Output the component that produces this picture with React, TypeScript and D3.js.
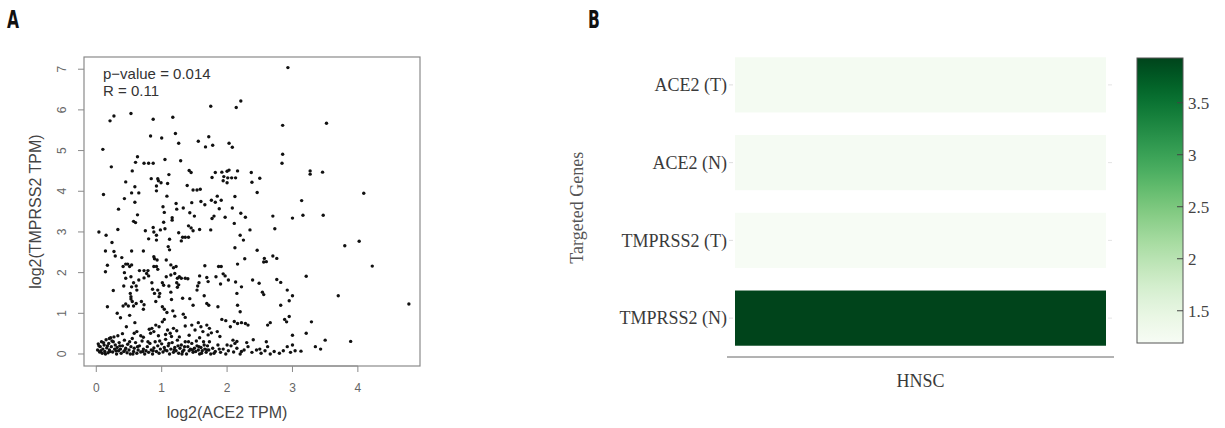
import React from "react";
import * as d3 from "d3";

// ---------- Panel A data: log2(ACE2 TPM) vs log2(TMPRSS2 TPM) ----------
const upperPoints: [number, number][] = [
  [2.93,7.04],[2.21,6.22],[2.14,6.06],[1.75,6.09],[3.52,5.67],[2.85,5.62],[2.85,4.91],[2.84,4.69],
  [0.04,3.0],[0.10,5.03],[0.27,5.85],[0.21,5.73],[0.53,5.91],[0.87,5.77],[1.17,5.82],[1.21,5.42],
  [1.26,5.18],[0.83,5.36],[1.0,5.31],[1.56,5.23],[1.72,5.34],[1.67,5.09],[1.78,5.13],[2.03,5.18],
  [2.08,5.08],[0.23,4.6],[0.11,3.92],[0.63,4.85],[0.6,4.71],[0.55,4.5],[0.73,4.69],[0.80,4.69],
  [0.87,4.69],[0.45,4.23],[0.59,4.11],[0.54,3.96],[0.65,3.96],[0.43,3.82],[0.34,3.56],[0.59,3.73],
  [0.63,3.42],[0.57,3.26],[0.6,3.23],[0.75,3.03],[0.33,3.06],[0.15,2.92],[0.24,2.74],[0.14,2.53],
  [0.27,2.52],[0.29,2.41],[0.39,2.37],[0.54,2.53],[0.72,2.53],[0.17,2.18],[0.14,2.02],[0.26,1.56],
  [0.17,1.16],[0.32,1.0],[0.37,0.89],
  [0.84,4.31],[0.94,4.31],[0.95,4.26],[0.99,4.21],[0.92,4.01],[0.92,4.13],[1.05,4.78],[1.11,4.41],
  [1.09,4.19],[1.02,3.62],[1.04,3.48],[1.08,3.88],[1.22,3.70],[1.23,3.56],[1.16,3.35],[1.16,3.29],
  [1.33,3.59],[1.29,4.75],[1.42,4.51],[1.45,4.46],[1.39,4.14],[1.48,4.03],[1.54,4.03],[1.59,4.05],
  [1.46,3.72],[1.6,3.75],[1.66,3.67],[1.43,3.47],[1.5,3.39],[1.41,3.15],[1.45,3.1],[1.48,3.03],
  [1.58,3.06],[1.41,2.87],[1.32,2.87],[1.36,2.87],[1.30,2.78],[1.26,2.98],[1.12,2.82],[1.10,2.64],
  [0.98,3.05],[1.05,3.08],[0.88,3.0],[0.92,2.92],[0.92,2.8],[0.80,2.83],[0.87,3.11],[1.03,3.24],
  [1.75,3.05],[1.77,3.33],[1.8,3.39],[1.76,3.78],[1.82,3.73],[1.85,3.88],[1.91,3.78],[1.77,4.34],
  [1.82,4.46],[1.92,4.47],[2.0,4.49],[2.03,4.52],[1.95,4.36],[1.94,4.26],[2.0,4.21],[2.01,4.33],
  [2.07,4.33],[2.13,4.33],[2.16,4.5],[2.37,4.46],[2.38,4.22],[2.5,4.32],[2.46,3.97],[2.08,3.59],
  [2.12,3.87],[2.11,3.21],[1.97,3.36],[1.88,3.57],[2.21,3.46],[2.28,3.36],[2.35,3.05],[2.2,2.92],
  [2.25,2.8],[2.12,2.61],[2.27,2.34],[2.46,2.55],[2.57,2.35],[2.6,2.27],[2.56,2.26],[2.7,2.41],
  [2.76,2.35],[2.7,3.39],[2.73,3.08],[3.0,3.34],[3.16,3.41],[3.14,3.77],[3.27,4.5],[3.27,4.42],
  [3.46,4.47],[3.47,3.41],[4.09,3.95],[4.02,2.77],[3.8,2.66],[4.22,2.16],[3.7,1.43],[4.78,1.23],
  [3.21,1.91],[3.29,0.79],[3.21,0.51],[3.89,0.31],[3.5,0.34],[3.35,0.18],[3.43,0.12],[3.0,1.43],
  [2.95,1.31],[2.82,1.2],[2.92,1.57],[2.76,1.83],[2.82,1.76],[2.39,1.82],[2.49,1.74],[2.54,1.52],
  [2.56,1.46],[2.62,0.71],[2.66,0.77],[2.88,0.85],[2.91,0.79],[2.95,0.92],[3.0,0.46],[3.0,0.22],
  [2.97,0.04],[3.04,0.08],[3.13,0.07],[2.92,0.18],[2.86,0.08],
];

const middlePoints: [number, number][] = [
  [1.66,2.17],[1.87,2.15],[1.91,2.15],[1.58,1.92],[1.57,1.75],[1.55,1.67],[1.69,1.88],[1.71,1.78],
  [1.83,1.9],[1.94,1.97],[1.97,1.92],[1.9,1.72],[2.02,1.82],[2.13,1.77],[2.16,2.21],[2.22,1.65],
  [2.15,1.49],[1.65,1.43],[1.69,1.24],[1.72,1.2],[1.48,1.2],[1.43,1.36],[1.54,1.57],[2.16,1.2],
  [2.2,1.04],[1.86,1.16],[1.92,0.85],[1.98,0.82],[2.05,0.67],[2.11,0.8],[2.16,0.75],[2.28,0.75],
  [2.32,0.71],[2.22,0.77],[2.09,0.34],[2.15,0.31],
  [1.14,2.19],[1.18,2.12],[1.22,2.15],[1.07,1.9],[1.14,1.94],[1.2,1.98],[1.24,1.86],[1.27,1.9],
  [1.30,1.86],[1.23,1.75],[1.26,1.7],[1.24,1.64],[1.36,1.86],[1.4,1.85],[1.11,1.67],[1.01,1.75],
  [1.03,1.69],[1.01,1.16],[1.04,1.1],[1.08,1.02],[1.17,1.06],[1.33,0.98],[1.36,0.9],[1.2,0.93],
  [1.14,1.52],[1.15,1.34],[1.32,1.37],[0.96,1.41],[0.94,1.57],[0.97,1.49],[0.86,1.59],[0.89,1.49],
  [0.91,1.29],[0.88,2.15],[0.89,2.34],[0.88,2.39],[0.93,2.31],[0.92,2.15],[0.94,2.08],[1.07,2.31],
  [1.12,2.56],[0.80,1.92],[0.85,1.75],[0.73,1.87],[0.77,1.98],[0.73,2.05],[0.79,2.05],[0.66,2.05],
  [0.65,1.82],[0.61,1.67],[0.62,1.57],[0.57,1.75],[0.53,1.9],[0.45,1.86],[0.51,2.15],[0.54,2.19],
  [0.41,2.15],[0.45,2.21],[0.48,2.21],[0.43,2.0],[0.42,1.67],[0.52,1.49],[0.53,1.41],[0.53,1.35],
  [0.55,1.29],[0.57,1.18],[0.61,1.24],[0.41,1.18],[0.45,1.23],[0.49,1.18],[0.54,1.65],[0.69,1.29],
  [0.73,1.21],[0.72,1.1],[0.51,0.95],[0.59,0.77],[0.46,0.67],[0.62,0.55],[0.58,0.51],[0.68,0.45],
  [0.72,0.41],[0.81,0.61],[0.85,0.63],[0.88,0.55],[0.83,0.51],[0.91,0.71],[0.96,0.67],[1.01,0.79],
  [1.04,0.85],[1.09,0.59],[1.13,0.51],[1.06,0.48],[1.18,0.63],[1.23,0.57],[1.15,0.43],[1.36,0.69],
  [1.46,0.71],[1.51,0.59],[1.56,0.77],[1.6,0.67],[1.63,0.55],[1.69,0.71],[1.73,0.63],[1.76,0.52],
  [1.71,0.47],[1.85,0.55],[1.89,0.43],[0.27,0.42],[0.33,0.45],[0.2,0.38],[0.4,0.5],[0.95,0.45],
  [1.27,0.42],[1.42,0.46],[1.58,0.4],[2.4,0.35],[2.6,0.3],[2.3,0.28],
];

const bottomBand: [number, number][] = [
  [0.02,0.1],[0.03,0.25],[0.05,0.05],[0.06,0.18],[0.08,0.3],[0.09,0.02],[0.1,0.12],[0.12,0.22],
  [0.13,0.06],[0.15,0.35],[0.16,0.15],[0.18,0.03],[0.19,0.26],[0.2,0.1],[0.22,0.4],[0.23,0.18],
  [0.25,0.05],[0.26,0.3],[0.28,0.12],[0.29,0.22],[0.31,0.0],[0.32,0.16],[0.34,0.08],[0.35,0.28],
  [0.37,0.12],[0.38,0.02],[0.4,0.2],[0.42,0.06],[0.43,0.34],[0.45,0.14],[0.47,0.03],[0.48,0.24],
  [0.5,0.1],[0.52,0.0],[0.53,0.18],[0.55,0.38],[0.57,0.06],[0.58,0.14],[0.6,0.28],[0.62,0.02],
  [0.64,0.1],[0.66,0.2],[0.68,0.05],[0.7,0.32],[0.72,0.12],[0.74,0.0],[0.76,0.08],[0.78,0.18],
  [0.8,0.04],[0.82,0.26],[0.84,0.1],[0.86,0.0],[0.88,0.15],[0.9,0.3],[0.92,0.06],[0.94,0.2],
  [0.96,0.02],[0.98,0.12],[1.0,0.25],[1.02,0.05],[1.04,0.16],[1.06,0.36],[1.08,0.08],[1.1,0.2],
  [1.12,0.0],[1.14,0.12],[1.16,0.28],[1.18,0.04],[1.2,0.16],[1.22,0.08],[1.24,0.34],[1.26,0.02],
  [1.28,0.14],[1.3,0.22],[1.32,0.06],[1.34,0.1],[1.36,0.3],[1.38,0.0],[1.4,0.18],[1.42,0.08],
  [1.44,0.12],[1.46,0.26],[1.48,0.04],[1.5,0.14],[1.52,0.06],[1.54,0.2],[1.56,0.1],[1.58,0.0],
  [1.6,0.16],[1.62,0.08],[1.64,0.3],[1.66,0.12],[1.68,0.04],[1.7,0.2],[1.72,0.1],[1.75,0.0],
  [1.78,0.14],[1.82,0.06],[1.86,0.22],[1.9,0.04],[1.94,0.12],[1.98,0.0],[2.02,0.08],[2.06,0.2],
  [2.1,0.05],[2.15,0.14],[2.2,0.0],[2.26,0.1],[2.32,0.18],[2.38,0.04],[2.45,0.1],[2.52,0.02],
  [2.58,0.08],[2.66,0.0],[2.72,0.06],
  [0.04,0.2],[0.07,0.08],[0.11,0.28],[0.14,0.0],[0.17,0.2],[0.21,0.06],[0.24,0.32],[0.3,0.08],
  [0.36,0.2],[0.44,0.1],[0.51,0.3],[0.56,0.0],[0.63,0.18],[0.71,0.06],[0.79,0.3],[0.87,0.08],
  [0.97,0.32],[1.05,0.1],[1.11,0.26],[1.19,0.1],[1.25,0.2],[1.31,0.0],[1.35,0.18],[1.41,0.3],
  [1.47,0.1],[1.53,0.32],[1.57,0.18],[1.61,0.02],[1.65,0.22],[1.69,0.1],[1.73,0.3],[1.8,0.02],
  [1.88,0.12],[2.0,0.22],[2.12,0.26],[2.22,0.06],[2.5,0.12],[2.62,0.18],[2.8,0.02],
];

const scatterPoints: [number, number][] = [...upperPoints, ...middlePoints, ...bottomBand];
const xTicksA = [0, 1, 2, 3, 4];
const yTicksA = [0, 1, 2, 3, 4, 5, 6, 7];

// ---------- Panel B data: heatmap ----------
const genes = ["ACE2 (T)", "ACE2 (N)", "TMPRSS2 (T)", "TMPRSS2 (N)"];
const geneValues = [1.24, 1.22, 1.19, 3.93];
const cancerTypes = ["HNSC"];
const legendTicks = [1.5, 2, 2.5, 3, 3.5];
const legendDomain: [number, number] = [1.19, 3.93];

export default function App() {
  // Panel A scales
  const xA = d3.scaleLinear().domain([-0.188, 4.95]).range([84, 420]);
  const yA = d3.scaleLinear().domain([-0.295, 7.3]).range([366, 57]);

  // Panel B scales
  const yB = d3.scaleBand<string>().domain(genes).range([46, 357]).paddingInner(0.29).paddingOuter(0.145);
  const xB = d3.scaleBand<string>().domain(cancerTypes).range([735, 1106]);
  const color = d3.scaleSequential(d3.interpolateGreens).domain(legendDomain);
  const legTop = 58, legBottom = 343, legLeft = 1137, legRight = 1183;
  const yLeg = d3.scaleLinear().domain(legendDomain).range([legBottom, legTop]);
  const gradStops = d3.range(0, 1.0001, 0.05);

  const sans = "'Liberation Sans', Arial, sans-serif";
  const serif = "'Liberation Serif', 'Times New Roman', serif";
  const labelFont = "'DejaVu Sans Condensed', 'DejaVu Sans', sans-serif";

  return (
    <svg width={1225} height={428} style={{ position: "absolute", left: 0, top: 0, background: "#fff" }}>
      <defs>
        <linearGradient id="leg" x1="0" y1="1" x2="0" y2="0">
          {gradStops.map((t) => (
            <stop key={t} offset={t} stopColor={d3.interpolateGreens(t)} />
          ))}
        </linearGradient>
      </defs>
      <rect width={1225} height={428} fill="#fff" />

      {/* Panel labels */}
      <text transform="translate(7,28) scale(0.72,1)" fontFamily={labelFont} fontWeight="bold" fontSize={24} fill="#111">A</text>
      <text transform="translate(588,28) scale(0.72,1)" fontFamily={labelFont} fontWeight="bold" fontSize={24} fill="#111">B</text>

      {/* ---------------- Panel A ---------------- */}
      <rect x={84} y={57} width={336} height={309} fill="none" stroke="#8a8a8a" strokeWidth={1.2} />
      {scatterPoints.map(([x, y], i) => (
        <circle key={i} cx={xA(x)} cy={yA(y)} r={1.7} fill="#111" />
      ))}
      {/* x axis */}
      <line x1={xA(0)} x2={xA(4)} y1={366} y2={366} stroke="#8a8a8a" />
      {xTicksA.map((t) => (
        <g key={t}>
          <line x1={xA(t)} x2={xA(t)} y1={366} y2={372} stroke="#8a8a8a" />
          <text x={xA(t)} y={392} textAnchor="middle" fontFamily={sans} fontSize={12} fill="#666">{t}</text>
        </g>
      ))}
      <text x={xA(2)} y={418} textAnchor="middle" fontFamily={sans} fontSize={16} fill="#444">log2(ACE2 TPM)</text>
      {/* y axis */}
      {yTicksA.map((t) => (
        <g key={t}>
          <line x1={78} x2={84} y1={yA(t)} y2={yA(t)} stroke="#8a8a8a" />
          <text transform={`translate(66,${yA(t)}) rotate(-90)`} textAnchor="middle" fontFamily={sans} fontSize={12} fill="#666">{t}</text>
        </g>
      ))}
      <text transform={`translate(41,${yA(3.5)}) rotate(-90)`} textAnchor="middle" fontFamily={sans} fontSize={16} fill="#444">log2(TMPRSS2 TPM)</text>
      <text x={103} y={79} fontFamily={sans} fontSize={15} fill="#333">p−value = 0.014</text>
      <text x={103} y={96} fontFamily={sans} fontSize={15} fill="#333">R = 0.11</text>

      {/* ---------------- Panel B ---------------- */}
      {genes.map((g, i) => (
        <g key={g}>
          <rect x={xB("HNSC")} y={yB(g)} width={xB.bandwidth()} height={yB.bandwidth()} fill={color(geneValues[i])} />
          <line x1={729} x2={733} y1={yB(g)! + yB.bandwidth() / 2} y2={yB(g)! + yB.bandwidth() / 2} stroke="#ddd" />
          <line x1={1108} x2={1112} y1={yB(g)! + yB.bandwidth() / 2} y2={yB(g)! + yB.bandwidth() / 2} stroke="#e4e4e4" />
          <text x={727} y={yB(g)! + yB.bandwidth() / 2} dy="0.35em" textAnchor="end" fontFamily={serif} fontSize={18} fill="#3a3a3a">{g}</text>
        </g>
      ))}
      <line x1={727} x2={1114} y1={357} y2={357} stroke="#666" strokeWidth={1} />
      <text x={xB("HNSC")! + xB.bandwidth() / 2} y={387} textAnchor="middle" fontFamily={serif} fontSize={18} fill="#3a3a3a">HNSC</text>
      <text transform={`translate(583,${yB("ACE2 (N)")! + yB.step() - 5}) rotate(-90)`} textAnchor="middle" fontFamily={serif} fontSize={18} fill="#555">Targeted Genes</text>

      {/* legend */}
      <rect x={legLeft} y={legTop} width={legRight - legLeft} height={legBottom - legTop} fill="url(#leg)" stroke="#555" strokeWidth={1} />
      {legendTicks.map((t) => (
        <g key={t}>
          <line x1={legRight - 6} x2={legRight} y1={yLeg(t)} y2={yLeg(t)} stroke="#444" strokeWidth={1} />
          <text x={legRight + 5} y={yLeg(t)} dy="0.35em" fontFamily={serif} fontSize={17} fill="#444">{t}</text>
        </g>
      ))}
    </svg>
  );
}
